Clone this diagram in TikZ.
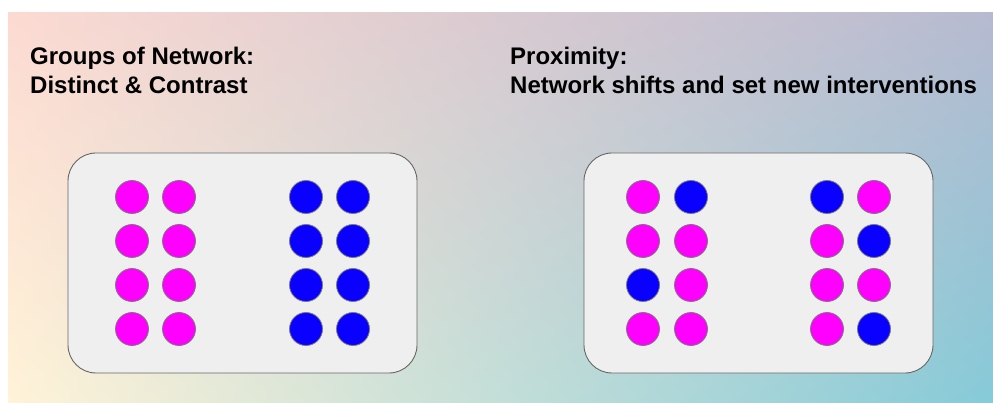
\documentclass[tikz,border=0pt]{standalone}
\usepackage{fontspec}
\setmainfont{Liberation Sans}
\usepackage{xcolor}
\usetikzlibrary{positioning,shadings}

\definecolor{bgtl}{HTML}{FCDAD2}
\definecolor{bgtr}{HTML}{B6BAD0}
\definecolor{bgbl}{HTML}{FFF3D8}
\definecolor{bgbr}{HTML}{86CAD8}
\definecolor{boxgray}{HTML}{EFEFEF}
\definecolor{boxedge}{HTML}{666666}
\definecolor{dotedge}{HTML}{7A7A7A}
\definecolor{mag}{HTML}{FF00FF}
\definecolor{blu}{HTML}{0A00FF}

\begin{document}
\begin{tikzpicture}[
    x=1pt, y=-1pt,
    panel/.style={rectangle, draw=boxedge, fill=boxgray, line width=0.9pt, rounded corners=28pt, minimum width=349pt, minimum height=220pt},
    dot/.style={circle, draw=dotedge, line width=0.8pt, minimum size=33pt, inner sep=0pt},
    title/.style={anchor=north west, inner sep=0pt, align=left, font=\fontsize{24}{29.5}\selectfont\bfseries}
]
    \useasboundingbox (0,0) rectangle (993,403);

    % Background gradient
    \shade[upper left=bgtl, upper right=bgtr, lower left=bgbl, lower right=bgbr] (8,13) rectangle (993,402);

    % Titles
    \node[title] (groupstitle) at (30,46.5) {Groups of Network:\\Distinct \& Contrast};
    \node[title] (proxtitle) at (510,46.5) {Proximity:\\Network shifts and set new interventions};

    % Panels
    \node[panel] (groups) at (242.5,263) {};
    \node[panel] (prox) at (758.5,263) {};

    % Left panel: two separate groups
    \foreach \y [count=\i] in {197,241,285,329} {
        \foreach \x/\col [count=\j] in {132/mag,179/mag,306/blu,353/blu} {
            \node[dot, fill=\col] (g\i\j) at (\x,\y) {};
        }
    }

    % Right panel: mixed groups
    \foreach \y/\row [count=\i] in {197/{643/mag,691/blu,827/blu,874/mag},
                                     241/{643/mag,691/mag,827/mag,874/blu},
                                     285/{643/blu,691/mag,827/mag,874/mag},
                                     329/{643/mag,691/mag,827/mag,874/blu}} {
        \foreach \x/\col [count=\j] in \row {
            \node[dot, fill=\col] (p\i\j) at (\x,\y) {};
        }
    }
\end{tikzpicture}
\end{document}
